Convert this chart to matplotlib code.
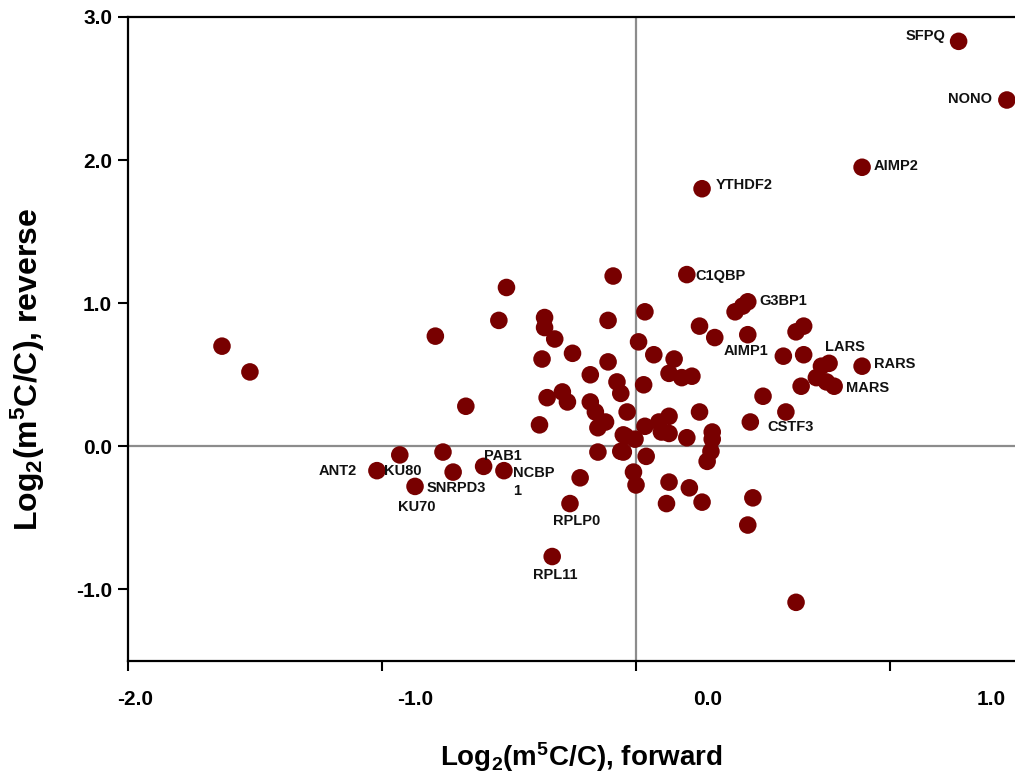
import numpy as np
import matplotlib
matplotlib.use("Agg")
import matplotlib.pyplot as plt

plt.rcParams['font.family'] = ['Liberation Sans', 'DejaVu Sans']
plt.rcParams['mathtext.fontset'] = 'custom'
plt.rcParams['mathtext.rm'] = 'Liberation Sans:bold'
plt.rcParams['mathtext.bf'] = 'Liberation Sans:bold'
plt.rcParams['mathtext.default'] = 'rm'

#%% data: log2(m5C/C) forward vs reverse
fwd = [-1.63, -1.52, -0.79, -0.67, -0.93, -1.02, -0.87, -0.76, -0.72, -0.60,
       -0.52, -0.22, -0.26, -0.33,
       -0.51, -0.54, -0.36, -0.36, -0.32, -0.25, -0.37, -0.09, -0.11, 0.035,
       0.01, -0.11, -0.18, -0.075, -0.06, -0.35, -0.29, -0.27, -0.18, -0.16,
       -0.12, -0.15, -0.035, -0.38, -0.05, -0.15, -0.06, -0.04, -0.004, -0.05,
       0.04, -0.01, 0.0, 0.035, 0.09, 0.13, 0.10, 0.13, 0.20, 0.30,
       0.30, 0.295, 0.28, 0.13, 0.21, 0.12, 0.26, 0.46, 0.44, 0.63,
       0.45, 0.20, 0.39, 0.42, 0.44, 0.07, 0.15, 0.13, 0.18, 0.22,
       0.03, 0.25, 0.31, 0.44, 0.25, 0.50, 0.59, 0.58, 0.66, 0.63,
       0.66, 0.65, 0.73, 0.76, 0.71, 0.75, 0.78, 0.89, 1.27, 1.46,
       0.89, 0.26]
rev = [0.70, 0.52, 0.77, 0.28, -0.06, -0.17, -0.28, -0.04, -0.18, -0.14,
       -0.17, -0.22, -0.40, -0.77,
       1.11, 0.88, 0.90, 0.83, 0.75, 0.65, 0.61, 1.19, 0.88, 0.94,
       0.73, 0.59, 0.50, 0.45, 0.37, 0.34, 0.38, 0.31, 0.31, 0.24,
       0.17, 0.13, 0.24, 0.15, 0.08, -0.04, -0.035, 0.07, 0.05, -0.04,
       -0.07, -0.18, -0.27, 0.14, 0.17, 0.21, 0.10, 0.09, 0.06, 0.10,
       0.05, -0.035, -0.105, -0.25, -0.29, -0.40, -0.39, -0.36, -0.55, -1.09,
       0.17, 1.20, 0.94, 0.98, 1.01, 0.64, 0.61, 0.51, 0.48, 0.49,
       0.43, 0.84, 0.76, 0.78, 0.24, 0.35, 0.24, 0.63, 0.64, 0.80,
       0.84, 0.42, 0.56, 0.58, 0.48, 0.45, 0.42, 0.56, 2.83, 2.42,
       1.95, 1.80]

# gene labels: text, x, y, horizontal alignment
labels = ['SFPQ', 'NONO', 'AIMP2', 'YTHDF2', 'C1QBP', 'G3BP1', 'AIMP1',
          'LARS', 'RARS', 'MARS', 'CSTF3', 'ANT2', 'KU80', 'SNRPD3', 'KU70',
          'PAB1', 'NCBP\n1', 'RPLP0', 'RPL11']
lab_x = [1.217, 1.40, 0.937, 0.315, 0.232, 0.484, 0.343,
         0.744, 0.937, 0.827, 0.516, -1.248, -0.992, -0.823, -0.937,
         -0.598, -0.485, -0.327, -0.406]
lab_y = [2.87, 2.43, 1.96, 1.826, 1.192, 1.017, 0.669,
         0.697, 0.578, 0.411, 0.132, -0.174, -0.174, -0.293, -0.425,
         -0.07, -0.25, -0.523, -0.899]
lab_ha = ['right', 'right', 'left', 'left', 'left', 'left', 'left',
          'left', 'left', 'left', 'left', 'left', 'left', 'left', 'left',
          'left', 'left', 'left', 'left']

xticks = [-2, -1, 0, 1]
xtick_text = ['-2.0', '-1.0', '0.0', '1.0']
xtick_text_pos = [-1.97, -0.87, 0.28, 1.40]   # labels sit off their ticks in the original
yticks = [-1, 0, 1, 2, 3]
ytick_text = ['-1.0', '0.0', '1.0', '2.0', '3.0']

#%% plot
fig = plt.figure(figsize=(10.15, 7.76), dpi=100)
ax = fig.add_axes([128/1015, 115/776, 887/1015, 644/776])

ax.axhline(0, color='#8c8c8c', lw=1.6, zorder=1)
ax.axvline(0, color='#8c8c8c', lw=1.6, zorder=1)
ax.scatter(fwd, rev, s=160, color='#780000', edgecolors='none', zorder=3)

for t, x, y, ha in zip(labels, lab_x, lab_y, lab_ha):
    ax.text(x, y, t, ha=ha, va='center', fontsize=10.5, fontweight='bold',
            color='#111111', linespacing=1.35, zorder=4)

ax.set_xlim(-2, 1.492)
ax.set_ylim(-1.5, 3.0)
ax.set_xticks(xticks)
ax.set_xticklabels([])
ax.set_yticks(yticks)
ax.set_yticklabels(ytick_text, fontsize=15, fontweight='bold')
ax.tick_params(axis='both', direction='out', length=7.5, width=1.5, color='black')
ax.tick_params(axis='y', pad=4)

for x, t in zip(xtick_text_pos, xtick_text):
    ax.text(x, -0.045, t, transform=ax.get_xaxis_transform(), ha='center',
            va='top', fontsize=15, fontweight='bold')

for s in ['left', 'bottom', 'top']:
    ax.spines[s].set_linewidth(1.6)
    ax.spines[s].set_color('black')
ax.spines['right'].set_visible(False)

fig.text(581/1015, 1 - 757/776, r'Log$_2$(m$^5$C/C), forward', ha='center',
         va='center', fontsize=20, fontweight='bold')
fig.text(28/1015, 1 - 369/776, r'Log$_2$(m$^5$C/C), reverse', ha='center',
         va='center', rotation=90, fontsize=23, fontweight='bold')

fig.savefig('out.png', dpi=100)
